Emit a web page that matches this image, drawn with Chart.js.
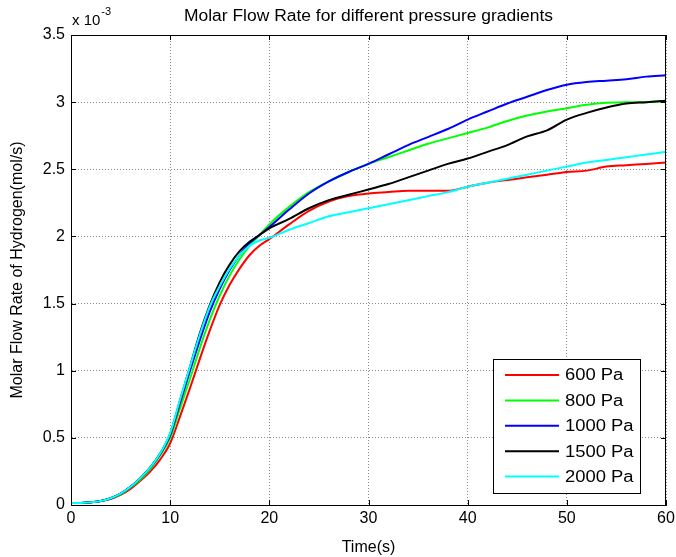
<!DOCTYPE html>
<html><head><meta charset="utf-8">
<script src="https://cdn.jsdelivr.net/npm/chart.js"></script>
<style>html,body{margin:0;padding:0;background:#fff}</style>
</head><body>
<canvas id="c" width="676" height="557"></canvas>
<script>
// time axis (s)
const times = [0,1,2,3,4,5,6,7,8,9,10,11,12,13,14,15,16,17,18,19,20,22,24,26,28,30,32,34,36,38,40,42,44,46,48,50,52,54,56,58,60];
// molar flow rate, units of 1e-3 mol/s
const pa600  = [0.015,0.015,0.02,0.03,0.045,0.075,0.12,0.18,0.25,0.34,0.46,0.66,0.87,1.09,1.30,1.49,1.64,1.76,1.86,1.93,1.98,2.09,2.19,2.26,2.30,2.32,2.33,2.34,2.34,2.34,2.37,2.40,2.42,2.44,2.46,2.48,2.49,2.52,2.53,2.54,2.55];
const pa800  = [0.015,0.015,0.02,0.03,0.05,0.08,0.13,0.19,0.27,0.37,0.50,0.72,0.94,1.17,1.38,1.56,1.71,1.83,1.93,2.01,2.09,2.22,2.33,2.41,2.48,2.54,2.59,2.64,2.69,2.73,2.77,2.81,2.86,2.90,2.93,2.955,2.98,2.995,3.0,3.0,3.01];
const pa1000 = [0.015,0.015,0.02,0.03,0.05,0.085,0.135,0.20,0.28,0.38,0.52,0.76,1.00,1.23,1.44,1.61,1.75,1.86,1.95,2.01,2.07,2.20,2.32,2.41,2.48,2.54,2.61,2.68,2.74,2.80,2.87,2.93,2.99,3.04,3.09,3.13,3.15,3.16,3.17,3.19,3.20];
const pa1500 = [0.015,0.015,0.02,0.03,0.05,0.085,0.135,0.20,0.28,0.385,0.53,0.78,1.03,1.28,1.49,1.66,1.79,1.89,1.96,2.01,2.06,2.13,2.21,2.27,2.31,2.35,2.39,2.44,2.49,2.54,2.58,2.63,2.68,2.745,2.79,2.87,2.92,2.96,2.99,3.00,3.01];
const pa2000 = [0.015,0.015,0.02,0.03,0.05,0.085,0.135,0.20,0.28,0.385,0.535,0.785,1.03,1.27,1.48,1.63,1.76,1.86,1.93,1.97,1.99,2.05,2.10,2.15,2.18,2.21,2.24,2.27,2.30,2.33,2.37,2.40,2.43,2.46,2.49,2.52,2.55,2.57,2.59,2.61,2.63];
const seriesLabels = ['600 Pa','800 Pa','1000 Pa','1500 Pa','2000 Pa'];
const seriesColors = ['#ff0000','#00ff00','#0000ff','#000000','#00ffff'];
const seriesValues = [pa600, pa800, pa1000, pa1500, pa2000];
const xTicks = [0,10,20,30,40,50,60];
const yTicks = [0,0.5,1,1.5,2,2.5,3,3.5];

const FONT = '"Liberation Sans", Arial, Helvetica, sans-serif';

const datasets = seriesValues.map((vals, i) => ({
  label: seriesLabels[i],
  data: vals.map((v, k) => ({x: times[k], y: v})),
  borderColor: seriesColors[i],
  backgroundColor: seriesColors[i],
  borderWidth: 2,
  pointRadius: 0,
  cubicInterpolationMode: 'monotone',
  fill: false,
  order: seriesValues.length - i
}));

function stretchedText(ctx, text, x, y, sx, align) {
  ctx.save();
  ctx.translate(x, y);
  ctx.scale(sx, 1);
  ctx.textAlign = align;
  ctx.fillText(text, 0, 0);
  ctx.restore();
}

const matlabDecor = {
  id: 'matlabDecor',
  afterDraw(chart) {
    const ctx = chart.ctx;
    const {left, top, right, bottom} = chart.chartArea;
    const xs = chart.scales.x, ys = chart.scales.y;
    ctx.save();
    // box
    ctx.strokeStyle = '#000'; ctx.lineWidth = 1;
    ctx.beginPath();
    ctx.moveTo(Math.round(left) + 0.5, Math.round(top) + 0.5);
    ctx.lineTo(Math.round(right) - 0.5, Math.round(top) + 0.5);
    ctx.lineTo(Math.round(right) - 0.5, Math.round(bottom) + 0.5);
    ctx.stroke();
    // inward ticks
    ctx.beginPath();
    xTicks.forEach(v => {
      const p = Math.round(xs.getPixelForValue(v)) + 0.5;
      ctx.moveTo(p, bottom); ctx.lineTo(p, bottom - 5);
      ctx.moveTo(p, top); ctx.lineTo(p, top + 5);
    });
    yTicks.forEach(v => {
      const p = Math.round(ys.getPixelForValue(v)) + 0.5;
      ctx.moveTo(left, p); ctx.lineTo(left + 5, p);
      ctx.moveTo(right, p); ctx.lineTo(right - 5, p);
    });
    ctx.stroke();
    // title
    ctx.fillStyle = '#000';
    ctx.font = '16px ' + FONT;
    ctx.textBaseline = 'alphabetic';
    stretchedText(ctx, 'Molar Flow Rate for different pressure gradients', (left + right) / 2, 21, 1.09, 'center');
    // exponent
    ctx.font = '15px ' + FONT;
    ctx.textAlign = 'left';
    ctx.fillText('x 10', left + 1, 25);
    const w = ctx.measureText('x 10').width;
    ctx.font = '11px ' + FONT;
    ctx.fillText('-3', left + 1 + w + 1, 15);
    // legend
    const lx = 493, ly = 359, lw = 147, lh = 134;
    ctx.fillStyle = '#fff';
    ctx.fillRect(lx, ly, lw, lh);
    ctx.strokeStyle = '#000'; ctx.lineWidth = 1;
    ctx.strokeRect(lx + 0.5, ly + 0.5, lw, lh);
    ctx.font = '16px ' + FONT;
    ctx.textBaseline = 'middle';
    chart.data.datasets.forEach((ds, i) => {
      const y = ly + 16 + i * 25.4;
      ctx.strokeStyle = ds.borderColor; ctx.lineWidth = 2;
      ctx.beginPath(); ctx.moveTo(lx + 12, y); ctx.lineTo(lx + 66, y); ctx.stroke();
      ctx.fillStyle = '#000';
      stretchedText(ctx, ds.label, lx + 72, y + 1, 1.15, 'left');
    });
    ctx.restore();
  }
};

new Chart(document.getElementById('c'), {
  type: 'line',
  data: { datasets },
  options: {
    responsive: false,
    animation: false,
    layout: { padding: { left: 0, right: 10, top: 35, bottom: 0 } },
    plugins: { legend: { display: false }, tooltip: { enabled: false }, title: { display: false } },
    scales: {
      x: {
        type: 'linear', min: 0, max: 60,
        afterBuildTicks: s => { s.ticks = xTicks.map(v => ({value: v})); },
        afterFit: s => { s.height = 52; s.paddingRight = 0; s.paddingLeft = 0; },
        ticks: { color: '#000', font: { size: 16, family: FONT }, padding: 4, maxRotation: 0 },
        grid: { color: '#8a8a8a', drawTicks: false, lineWidth: 1 },
        border: { display: true, color: '#000', width: 1, dash: [1, 2] },
        title: { display: true, text: 'Time(s)', color: '#000', font: { size: 16, family: FONT }, padding: { top: 2, bottom: 0 } }
      },
      y: {
        min: 0, max: 3.5,
        afterBuildTicks: s => { s.ticks = yTicks.map(v => ({value: v})); },
        afterFit: s => { s.width = 71; s.paddingTop = 0; s.paddingBottom = 0; },
        ticks: { color: '#000', font: { size: 16, family: FONT }, padding: 6, callback: v => String(v) },
        grid: { color: '#8a8a8a', drawTicks: false, lineWidth: 1 },
        border: { display: true, color: '#000', width: 1, dash: [1, 2] },
        title: { display: true, text: 'Molar Flow Rate of Hydrogen(mol/s)', color: '#000', font: { size: 16, family: FONT }, padding: { top: 8, bottom: 0 } }
      }
    }
  },
  plugins: [matlabDecor]
});
</script>
</body></html>
